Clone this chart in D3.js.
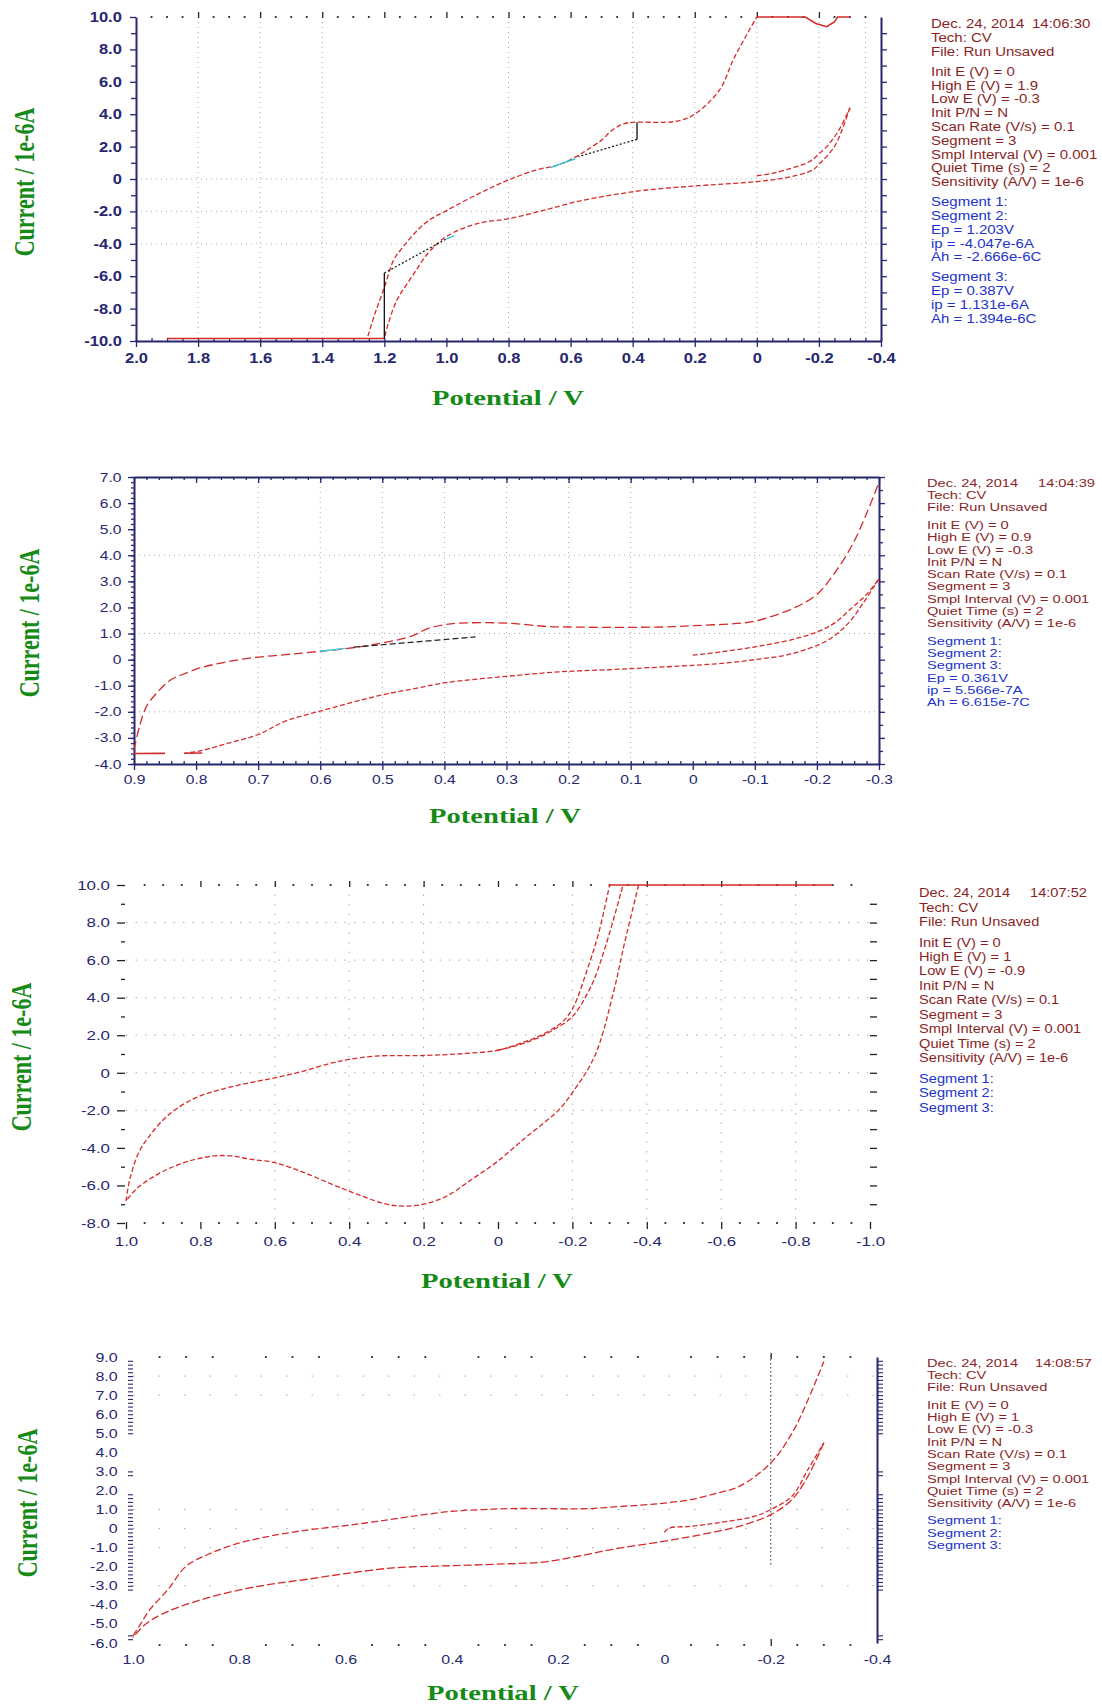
<!DOCTYPE html>
<html>
<head>
<meta charset="utf-8">
<script src="https://cdn.jsdelivr.net/npm/d3@7"></script>
<style>
  body { margin: 0; background: #fff; }
  svg { display: block; background: #fff; }
</style>
</head>
<body>
<svg id="chart" width="1102" height="1704"></svg>
<script>
// ---------- panel 1 : High E = 1.9 V ----------
var p1XTicks = [2.0, 1.8, 1.6, 1.4, 1.2, 1.0, 0.8, 0.6, 0.4, 0.2, 0, -0.2, -0.4];
var p1YTicks = [10, 8, 6, 4, 2, 0, -2, -4, -6, -8, -10];
var p1GridX = [1.8, 1.6, 1.4, 0.8, 0.4, 0.2, 0, -0.2, -0.35];
var p1GridY = [0, -2, -4];
var p1Seg1 = [[0, 0.2], [-0.05, 0.35], [-0.11, 0.66], [-0.15, 0.9], [-0.18, 1.2], [-0.2, 1.55],
  [-0.225, 2.0], [-0.25, 2.6], [-0.27, 3.2], [-0.3, 4.4]];
var p1Seg2 = [[-0.3, 4.4], [-0.27, 2.8], [-0.25, 2.0], [-0.225, 1.4], [-0.2, 0.9], [-0.18, 0.56],
  [-0.11, 0.14], [-0.05, -0.05], [0, -0.16], [0.075, -0.27], [0.2, -0.43], [0.355, -0.68],
  [0.47, -1.0], [0.58, -1.4], [0.66, -1.8], [0.7, -2.0], [0.8, -2.45], [0.9, -2.75],
  [1.0, -3.55], [1.06, -4.6], [1.11, -6.0], [1.16, -7.5], [1.19, -9.1], [1.2, -9.85]];
var p1Floor = [[1.2, -9.85], [1.9, -9.85]];
var p1Seg3 = [[1.253, -9.7], [1.23, -8.3], [1.2, -6.7], [1.17, -5.0], [1.14, -4.2], [1.1, -3.3],
  [1.06, -2.6], [1.0, -1.95], [0.885, -0.8], [0.8, -0.06], [0.71, 0.56], [0.64, 0.87],
  [0.58, 1.4], [0.547, 1.8], [0.5, 2.4], [0.467, 3.0], [0.43, 3.4], [0.4, 3.5], [0.3, 3.5],
  [0.25, 3.6], [0.2, 4.0], [0.12, 5.5], [0.075, 7.4], [0.03, 9.0], [0, 10]];
var p1Top = [[0, 10], [-0.156, 10], [-0.19, 9.6], [-0.225, 9.4], [-0.25, 9.7], [-0.26, 10], [-0.3, 10]];
var p1BaseA = [[1.2, -9.85], [1.2, -5.8]];
var p1FitA = [[1.2, -5.8], [1.0, -3.7]];
var p1CyanA = [[1.0, -3.7], [0.975, -3.5]];
var p1BaseB = [[0.386, 3.5], [0.386, 2.45]];
var p1FitB = [[0.386, 2.45], [0.575, 1.38]];
var p1CyanB = [[0.585, 1.25], [0.665, 0.7]];
var p1Stamp = ["Dec. 24, 2014", "14:06:30"];
var p1Head = ["Tech: CV", "File: Run Unsaved"];
var p1Params = ["Init E (V) = 0", "High E (V) = 1.9", "Low E (V) = -0.3", "Init P/N = N",
  "Scan Rate (V/s) = 0.1", "Segment = 3", "Smpl Interval (V) = 0.001", "Quiet Time (s) = 2",
  "Sensitivity (A/V) = 1e-6"];
var p1ResA = ["Segment 1:", "Segment 2:", "Ep = 1.203V", "ip = -4.047e-6A", "Ah = -2.666e-6C"];
var p1ResB = ["Segment 3:", "Ep = 0.387V", "ip = 1.131e-6A", "Ah = 1.394e-6C"];

// ---------- panel 2 : High E = 0.9 V ----------
var p2XTicks = [0.9, 0.8, 0.7, 0.6, 0.5, 0.4, 0.3, 0.2, 0.1, 0, -0.1, -0.2, -0.3];
var p2YTicks = [7, 6, 5, 4, 3, 2, 1, 0, -1, -2, -3, -4];
var p2GridX = [0.7, 0.6, 0.5, 0.4, 0.3, 0.2, 0.1, -0.1, -0.2];
var p2GridY = [4, 1, -2];
var p2Seg1 = [[0, 0.17], [-0.043, 0.29], [-0.1, 0.49], [-0.16, 0.77], [-0.2, 1.06], [-0.228, 1.4],
  [-0.257, 2.0], [-0.28, 2.5], [-0.3, 3.1]];
var p2Seg2 = [[-0.3, 3.1], [-0.274, 2.15], [-0.25, 1.38], [-0.217, 0.74], [-0.16, 0.23], [-0.1, 0.0],
  [-0.043, -0.15], [0, -0.22], [0.072, -0.31], [0.13, -0.38], [0.216, -0.47], [0.3, -0.64],
  [0.4, -0.89], [0.45, -1.12], [0.5, -1.35], [0.6, -1.97], [0.656, -2.36], [0.7, -2.87],
  [0.748, -3.2], [0.794, -3.5], [0.817, -3.58]];
var p2Floor = [[0.9, -3.6], [0.79, -3.58]];
var p2Seg3 = [[0.9, -3.45], [0.891, -2.55], [0.88, -1.8], [0.863, -1.27], [0.84, -0.76], [0.822, -0.57],
  [0.794, -0.32], [0.76, -0.13], [0.713, 0.06], [0.656, 0.19], [0.6, 0.32], [0.54, 0.48],
  [0.5, 0.64], [0.454, 0.89], [0.426, 1.2], [0.4, 1.34], [0.374, 1.4], [0.3, 1.4], [0.24, 1.28],
  [0.2, 1.25], [0.05, 1.25], [0, 1.3], [-0.078, 1.4], [-0.101, 1.48], [-0.16, 1.95], [-0.2, 2.5],
  [-0.228, 3.3], [-0.257, 4.4], [-0.28, 5.6], [-0.3, 6.8]];
var p2Fit = [[0.546, 0.48], [0.35, 0.87]];
var p2Cyan = [[0.6, 0.32], [0.56, 0.43]];
var p2Stamp = ["Dec. 24, 2014", "14:04:39"];
var p2Head = ["Tech: CV", "File: Run Unsaved"];
var p2Params = ["Init E (V) = 0", "High E (V) = 0.9", "Low E (V) = -0.3", "Init P/N = N",
  "Scan Rate (V/s) = 0.1", "Segment = 3", "Smpl Interval (V) = 0.001", "Quiet Time (s) = 2",
  "Sensitivity (A/V) = 1e-6"];
var p2Res = ["Segment 1:", "Segment 2:", "Segment 3:", "Ep = 0.361V", "ip = 5.566e-7A", "Ah = 6.615e-7C"];

// ---------- panel 3 : Low E = -0.9 V ----------
var p3XTicks = [1.0, 0.8, 0.6, 0.4, 0.2, 0, -0.2, -0.4, -0.6, -0.8, -1.0];
var p3YTicks = [10, 8, 6, 4, 2, 0, -2, -4, -6, -8];
var p3GridX = [0.6, 0.4, 0.2, -0.2, -0.4, -0.6, -0.8];
var p3GridY = [8, 6, 4, 2, 0, -2];
var p3Seg1 = [[0, 1.2], [-0.05, 1.45], [-0.1, 1.8], [-0.15, 2.3], [-0.2, 3.0], [-0.25, 4.6],
  [-0.29, 6.8], [-0.336, 10]];
var p3Seg2 = [[-0.378, 10], [-0.34, 6.9], [-0.31, 4.25], [-0.26, 0.89], [-0.2, -1.06], [-0.165, -1.95],
  [-0.135, -2.48], [-0.068, -3.55], [0, -4.7], [0.07, -5.67], [0.137, -6.56], [0.2, -7.0],
  [0.253, -7.1], [0.3, -7.0], [0.378, -6.47], [0.446, -5.94], [0.523, -5.3], [0.6, -4.79],
  [0.667, -4.6], [0.716, -4.43], [0.764, -4.43], [0.83, -4.7], [0.889, -5.14], [0.937, -5.67],
  [0.973, -6.2], [1.0, -6.83]];
var p3Seg3 = [[1.0, -6.83], [0.99, -5.7], [0.966, -4.26], [0.937, -3.37], [0.889, -2.3], [0.822, -1.42],
  [0.745, -0.89], [0.667, -0.53], [0.6, -0.27], [0.523, 0.09], [0.446, 0.53], [0.4, 0.71],
  [0.328, 0.89], [0.2, 0.92], [0.087, 1.03], [0, 1.2], [-0.05, 1.5], [-0.11, 1.95], [-0.17, 2.66],
  [-0.2, 3.4], [-0.24, 5.5], [-0.27, 7.4], [-0.3, 10]];
var p3Top = [[-0.3, 10], [-0.9, 10]];
var p3Stamp = ["Dec. 24, 2014", "14:07:52"];
var p3Head = ["Tech: CV", "File: Run Unsaved"];
var p3Params = ["Init E (V) = 0", "High E (V) = 1", "Low E (V) = -0.9", "Init P/N = N",
  "Scan Rate (V/s) = 0.1", "Segment = 3", "Smpl Interval (V) = 0.001", "Quiet Time (s) = 2",
  "Sensitivity (A/V) = 1e-6"];
var p3Res = ["Segment 1:", "Segment 2:", "Segment 3:"];

// ---------- panel 4 : High E = 1 V, Low E = -0.3 V ----------
var p4XTicks = [1.0, 0.8, 0.6, 0.4, 0.2, 0, -0.2, -0.4];
var p4YTicks = [9, 8, 7, 6, 5, 4, 3, 2, 1, 0, -1, -2, -3, -4, -5, -6];
var p4GridY = [8, 7, 1, 0, -1, -3];
var p4Seg1 = [[0, -0.2], [-0.008, 0.02], [-0.05, 0.12], [-0.1, 0.3], [-0.17, 0.65], [-0.2, 1.0],
  [-0.24, 1.7], [-0.27, 3.1], [-0.3, 4.5]];
var p4Seg2 = [[-0.3, 4.5], [-0.27, 2.74], [-0.24, 1.52], [-0.2, 0.73], [-0.14, 0.12], [-0.07, -0.31],
  [0, -0.66], [0.1, -1.1], [0.163, -1.45], [0.23, -1.76], [0.3, -1.85], [0.37, -1.92],
  [0.43, -1.97], [0.51, -2.06], [0.6, -2.36], [0.676, -2.67], [0.743, -2.93], [0.81, -3.28],
  [0.88, -3.8], [0.947, -4.5], [0.98, -5.1], [1.0, -5.72]];
var p4Seg3 = [[1.0, -5.64], [0.988, -5.1], [0.968, -4.24], [0.934, -3.19], [0.9, -1.97], [0.859, -1.36],
  [0.81, -0.84], [0.743, -0.4], [0.676, -0.09], [0.6, 0.16], [0.54, 0.38], [0.473, 0.65],
  [0.4, 0.91], [0.34, 1.0], [0.29, 1.05], [0.14, 1.05], [0.1, 1.13], [0.03, 1.26], [0, 1.34],
  [-0.05, 1.52], [-0.1, 1.87], [-0.14, 2.2], [-0.2, 3.44], [-0.24, 5.0], [-0.27, 6.75], [-0.3, 8.76]];
var p4Marker = [[-0.2, 9.1], [-0.2, -1.9]];
var p4Stamp = ["Dec. 24, 2014", "14:08:57"];
var p4Head = ["Tech: CV", "File: Run Unsaved"];
var p4Params = ["Init E (V) = 0", "High E (V) = 1", "Low E (V) = -0.3", "Init P/N = N",
  "Scan Rate (V/s) = 0.1", "Segment = 3", "Smpl Interval (V) = 0.001", "Quiet Time (s) = 2",
  "Sensitivity (A/V) = 1e-6"];
var p4Res = ["Segment 1:", "Segment 2:", "Segment 3:"];

// ---------- drawing ----------
var svg = d3.select("#chart");
var sans = '"Liberation Sans", Arial, sans-serif';
var serif = '"Liberation Serif", "Times New Roman", serif';
var navy = "#27276f", red = "#d62a2a", maroon = "#8a1f1f", blue = "#2233cc", green = "#168a16";

function fmt(v) { return v === 0 ? "0" : v.toFixed(1); }
function steps(a, b, s) { return d3.range(a, b + s / 2, s).map(function (v) { return +v.toFixed(3); }); }
function isMajor(v, m) { return Math.abs(v / m - Math.round(v / m)) < 1e-6; }

function addAxis(g, axis, tx, ty, o) {
  var a = g.append("g").attr("transform", "translate(" + tx + "," + ty + ")").call(axis);
  a.attr("font-size", null).attr("font-family", null);
  a.select(".domain").attr("stroke", o.domain ? navy : "none").attr("stroke-width", 2);
  a.selectAll(".tick line").attr("stroke", o.tickColor || navy).attr("stroke-width", o.tw || 1.3);
  a.selectAll(".tick text").attr("fill", navy).style("font-family", sans)
    .style("font-size", (o.fs || 13) + "px").style("font-weight", o.bold ? "bold" : null)
    .attr("transform", "scale(" + (o.sx || 1) + ",1)");
  return a;
}

function drawGrid(g, x, y, box, gx, gy, dash) {
  var gr = g.append("g").attr("stroke", "#aaaaaa").attr("stroke-width", 1).attr("stroke-dasharray", dash);
  gr.selectAll(null).data(gx).join("line")
    .attr("x1", function (d) { return x(d); }).attr("x2", function (d) { return x(d); })
    .attr("y1", box.top).attr("y2", box.bottom);
  gr.selectAll(null).data(gy).join("line")
    .attr("x1", box.left).attr("x2", box.right)
    .attr("y1", function (d) { return y(d); }).attr("y2", function (d) { return y(d); });
}

function dotRow(g, x, yPos, vals) {
  g.append("g").selectAll(null).data(vals).join("rect")
    .attr("x", function (d) { return x(d) - 0.9; }).attr("y", yPos - 0.9)
    .attr("width", 1.8).attr("height", 1.8).attr("fill", "#222");
}

function drawSeries(g, x, y, list) {
  list.forEach(function (s) {
    var line = d3.line().x(function (d) { return x(d[0]); }).y(function (d) { return y(d[1]); })
      .curve(s.linear ? d3.curveLinear : d3.curveCatmullRom.alpha(0.5));
    g.append("path").attr("d", line(s.pts)).attr("fill", "none")
      .attr("stroke", s.color || red).attr("stroke-width", s.w || 1.3)
      .attr("stroke-dasharray", s.dash === undefined ? "5,2.5" : s.dash);
  });
}

function titles(xc, yc, yx, yy) {
  svg.append("text").attr("transform", "translate(" + xc + "," + yc + ") scale(1.3,1)")
    .attr("text-anchor", "middle").attr("dy", "0.35em").attr("fill", green)
    .style("font-family", serif).style("font-weight", "bold").style("font-size", "22px")
    .text("Potential / V");
  svg.append("text").attr("transform", "translate(" + yx + "," + yy + ") scale(1.3,1) rotate(-90)")
    .attr("text-anchor", "middle").attr("dy", "0.35em").attr("fill", green)
    .style("font-family", serif).style("font-weight", "bold").style("font-size", "22px")
    .text("Current / 1e-6A");
}

function infoBlock(o) {
  var g = svg.append("g").style("font-family", sans).style("font-size", o.fs + "px");
  var yy = o.y0;
  g.append("text").attr("transform", "translate(" + (o.x + o.timeDx) + "," + yy + ") scale(" + o.sx + ",1)")
    .attr("dy", "0.35em").attr("fill", maroon).text(o.stamp[1]);
  o.groups.forEach(function (grp, gi) {
    if (gi > 0) yy += o.gap;
    grp.lines.forEach(function (t) {
      g.append("text").attr("transform", "translate(" + o.x + "," + yy + ") scale(" + o.sx + ",1)")
        .attr("dy", "0.35em").attr("fill", grp.color).text(t);
      yy += o.lh;
    });
  });
}

// ===== panel 1 =====
(function () {
  var box = { left: 136, right: 881, top: 17, bottom: 341 };
  var x = d3.scaleLinear().domain([2.0, -0.4]).range([box.left, box.right]);
  var y = d3.scaleLinear().domain([-10, 10]).range([box.bottom, box.top]);
  var g = svg.append("g");
  drawGrid(g, x, y, box, p1GridX, p1GridY, "1,4");
  dotRow(g, x, box.top, steps(-0.35, 1.95, 0.05).filter(function (v) { return !isMajor(v, 0.2); }));
  addAxis(g, d3.axisTop(x).tickValues(p1XTicks.slice(1, -1)).tickFormat("").tickSize(6).tickSizeOuter(0),
    0, box.top + 1, { domain: false, tickColor: "#222" });
  addAxis(g, d3.axisBottom(x).tickValues(steps(-0.4, 2.0, 0.05)).tickFormat("").tickSize(-3).tickSizeOuter(0),
    0, box.bottom, { domain: false });
  addAxis(g, d3.axisBottom(x).tickValues(p1XTicks).tickFormat(fmt).tickSize(6).tickPadding(6).tickSizeOuter(0),
    0, box.bottom, { domain: true, fs: 14, sx: 1.18, bold: true });
  addAxis(g, d3.axisLeft(y).tickValues(steps(-9, 9, 2)).tickFormat("").tickSize(5).tickSizeOuter(0),
    box.left, 0, { domain: false });
  addAxis(g, d3.axisLeft(y).tickValues(p1YTicks).tickFormat(fmt).tickSize(6).tickPadding(6).tickSizeOuter(0),
    box.left, 0, { domain: true, fs: 14, sx: 1.18, bold: true });
  addAxis(g, d3.axisRight(y).tickValues(steps(-9, 9, 1)).tickFormat("").tickSize(6).tickSizeOuter(0),
    box.right, 0, { domain: true });
  drawSeries(g, x, y, [
    { pts: p1Seg1 }, { pts: p1Seg2 }, { pts: p1Seg3 },
    { pts: p1Floor, dash: null, linear: true, w: 1.6 },
    { pts: p1Top, dash: null, linear: true, w: 1.5 },
    { pts: p1BaseA, color: "#111", dash: null, linear: true, w: 1.3 },
    { pts: p1FitA, color: "#111", dash: "2,2", linear: true, w: 1.2 },
    { pts: p1CyanA, color: "#33c8d8", dash: null, linear: true, w: 1.4 },
    { pts: p1BaseB, color: "#111", dash: null, linear: true, w: 1.3 },
    { pts: p1FitB, color: "#111", dash: "2,2", linear: true, w: 1.2 },
    { pts: p1CyanB, color: "#33c8d8", dash: null, linear: true, w: 1.4 }
  ]);
  titles(508, 397, 24, 182);
  infoBlock({ x: 931, timeDx: 101, y0: 24, lh: 13.8, gap: 6.2, fs: 12, sx: 1.25, stamp: p1Stamp,
    groups: [{ lines: [p1Stamp[0]].concat(p1Head), color: maroon }, { lines: p1Params, color: maroon },
      { lines: p1ResA, color: blue }, { lines: p1ResB, color: blue }] });
})();

// ===== panel 2 =====
(function () {
  var box = { left: 134, right: 879, top: 477, bottom: 764 };
  var x = d3.scaleLinear().domain([0.9, -0.3]).range([box.left, box.right]);
  var y = d3.scaleLinear().domain([-4, 7]).range([box.bottom, box.top]);
  var g = svg.append("g");
  drawGrid(g, x, y, box, p2GridX, p2GridY, "1,4");
  addAxis(g, d3.axisTop(x).tickValues(steps(-0.3, 0.9, 0.02)).tickFormat("").tickSize(-3).tickSizeOuter(0),
    0, box.top, { domain: false });
  addAxis(g, d3.axisTop(x).tickValues(p2XTicks).tickFormat("").tickSize(-6).tickSizeOuter(0),
    0, box.top, { domain: true });
  addAxis(g, d3.axisBottom(x).tickValues(steps(-0.3, 0.9, 0.02)).tickFormat("").tickSize(-3).tickSizeOuter(0),
    0, box.bottom, { domain: false });
  addAxis(g, d3.axisBottom(x).tickValues(p2XTicks).tickFormat(fmt).tickSize(6).tickPadding(5).tickSizeOuter(0),
    0, box.bottom, { domain: true, fs: 12.5, sx: 1.25 });
  addAxis(g, d3.axisLeft(y).tickValues(steps(-4, 7, 0.2)).tickFormat("").tickSize(3).tickSizeOuter(0),
    box.left, 0, { domain: false });
  addAxis(g, d3.axisLeft(y).tickValues(p2YTicks).tickFormat(fmt).tickSize(6).tickPadding(4).tickSizeOuter(0),
    box.left, 0, { domain: true, fs: 12.5, sx: 1.25 });
  addAxis(g, d3.axisRight(y).tickValues(steps(-3.5, 6.5, 1)).tickFormat("").tickSize(4).tickSizeOuter(0),
    box.right, 0, { domain: false });
  addAxis(g, d3.axisRight(y).tickValues(p2YTicks).tickFormat("").tickSize(6).tickSizeOuter(0),
    box.right, 0, { domain: true });
  drawSeries(g, x, y, [
    { pts: p2Seg1 }, { pts: p2Seg2 }, { pts: p2Seg3, dash: "9,4" },
    { pts: p2Floor, dash: "31,19,25,200", linear: true, w: 1.6 },
    { pts: p2Fit, color: "#222", dash: "6,3", linear: true, w: 1.2 },
    { pts: p2Cyan, color: "#33c8d8", dash: null, linear: true, w: 1.4 }
  ]);
  titles(505, 815, 29, 623);
  infoBlock({ x: 927, timeDx: 111, y0: 483, lh: 12.25, gap: 5.5, fs: 11, sx: 1.33, stamp: p2Stamp,
    groups: [{ lines: [p2Stamp[0]].concat(p2Head), color: maroon }, { lines: p2Params, color: maroon },
      { lines: p2Res, color: blue }] });
})();

// ===== panel 3 =====
(function () {
  var box = { left: 126, right: 870, top: 885, bottom: 1223 };
  var x = d3.scaleLinear().domain([1.0, -1.0]).range([box.left, box.right]);
  var y = d3.scaleLinear().domain([-8, 10]).range([box.bottom, box.top]);
  var g = svg.append("g");
  drawGrid(g, x, y, box, p3GridX, p3GridY, "1.5,8");
  var dots = steps(-0.95, 0.95, 0.05).filter(function (v) { return !isMajor(v, 0.2); });
  dotRow(g, x, box.top, dots);
  dotRow(g, x, box.bottom, dots);
  addAxis(g, d3.axisTop(x).tickValues(p3XTicks.slice(1, -1)).tickFormat("").tickSize(6).tickSizeOuter(0),
    0, box.top + 2, { domain: false, tickColor: "#222" });
  addAxis(g, d3.axisBottom(x).tickValues(p3XTicks).tickFormat(fmt).tickSize(7).tickPadding(7).tickSizeOuter(0),
    0, box.bottom - 1, { domain: false, tickColor: "#222", fs: 13.5, sx: 1.25 });
  addAxis(g, d3.axisLeft(y).tickValues(steps(-7, 9, 2)).tickFormat("").tickSize(4).tickSizeOuter(0),
    box.left - 1, 0, { domain: false, tickColor: "#222" });
  addAxis(g, d3.axisLeft(y).tickValues(p3YTicks).tickFormat(fmt).tickSize(8).tickPadding(4).tickSizeOuter(0),
    box.left - 1, 0, { domain: false, tickColor: "#222", fs: 13.5, sx: 1.25 });
  addAxis(g, d3.axisRight(y).tickValues(steps(-7, 9, 1)).tickFormat("").tickSize(7).tickSizeOuter(0),
    box.right, 0, { domain: false, tickColor: "#222" });
  drawSeries(g, x, y, [
    { pts: p3Seg1 }, { pts: p3Seg2 }, { pts: p3Seg3 },
    { pts: p3Top, dash: null, linear: true, w: 1.6 }
  ]);
  titles(497, 1280, 21, 1057);
  infoBlock({ x: 919, timeDx: 111, y0: 893, lh: 14.45, gap: 6, fs: 12, sx: 1.22, stamp: p3Stamp,
    groups: [{ lines: [p3Stamp[0]].concat(p3Head), color: maroon }, { lines: p3Params, color: maroon },
      { lines: p3Res, color: blue }] });
})();

// ===== panel 4 =====
(function () {
  var box = { left: 133, right: 877, top: 1357, bottom: 1643 };
  var x = d3.scaleLinear().domain([1.0, -0.4]).range([box.left, box.right]);
  var y = d3.scaleLinear().domain([-6, 9]).range([box.bottom, box.top]);
  var g = svg.append("g");
  drawGrid(g, x, y, box, [], p4GridY, "1.5,24");
  var dots = steps(-0.35, 0.95, 0.05).filter(function (v) { return !isMajor(v, 0.2); });
  dotRow(g, x, box.top, dots);
  dotRow(g, x, box.bottom + 2, dots);
  addAxis(g, d3.axisTop(x).tickValues([-0.2]).tickFormat("").tickSize(6).tickSizeOuter(0),
    0, box.top + 2, { domain: false, tickColor: "#222" });
  addAxis(g, d3.axisBottom(x).tickValues([-0.2]).tickFormat("").tickSize(7).tickSizeOuter(0),
    0, box.bottom - 4, { domain: false, tickColor: "#222" });
  addAxis(g, d3.axisBottom(x).tickValues(p4XTicks).tickFormat(fmt).tickSize(0).tickPadding(12).tickSizeOuter(0),
    0, box.bottom, { domain: false, fs: 12.5, sx: 1.28 });
  var cluster = steps(-6, 9, 0.2).filter(function (v) {
    return (v >= 5 && v <= 8.8) || (v >= 2.8 && v <= 3.0) || (v >= -3.2 && v <= 1.8) || (v >= -5.8 && v <= -5.6);
  });
  addAxis(g, d3.axisLeft(y).tickValues(cluster).tickFormat("").tickSize(5).tickSizeOuter(0),
    box.left, 0, { domain: false, tw: 1.1 });
  addAxis(g, d3.axisLeft(y).tickValues(p4YTicks).tickFormat(fmt).tickSize(0).tickPadding(12).tickSizeOuter(0),
    box.left, 0, { domain: false, fs: 12.5, sx: 1.28 });
  addAxis(g, d3.axisRight(y).tickValues(cluster).tickFormat("").tickSize(6).tickSizeOuter(0),
    box.right, 0, { domain: true, tw: 1.1 });
  drawSeries(g, x, y, [
    { pts: p4Marker, color: "#555", dash: "1.5,2.5", linear: true, w: 1.2 },
    { pts: p4Seg1 }, { pts: p4Seg2, dash: "8,3" }, { pts: p4Seg3, dash: "7,3" }
  ]);
  titles(503, 1692, 27, 1503);
  infoBlock({ x: 927, timeDx: 108, y0: 1363, lh: 12.3, gap: 5, fs: 11, sx: 1.33, stamp: p4Stamp,
    groups: [{ lines: [p4Stamp[0]].concat(p4Head), color: maroon }, { lines: p4Params, color: maroon },
      { lines: p4Res, color: blue }] });
})();
</script>
</body>
</html>
